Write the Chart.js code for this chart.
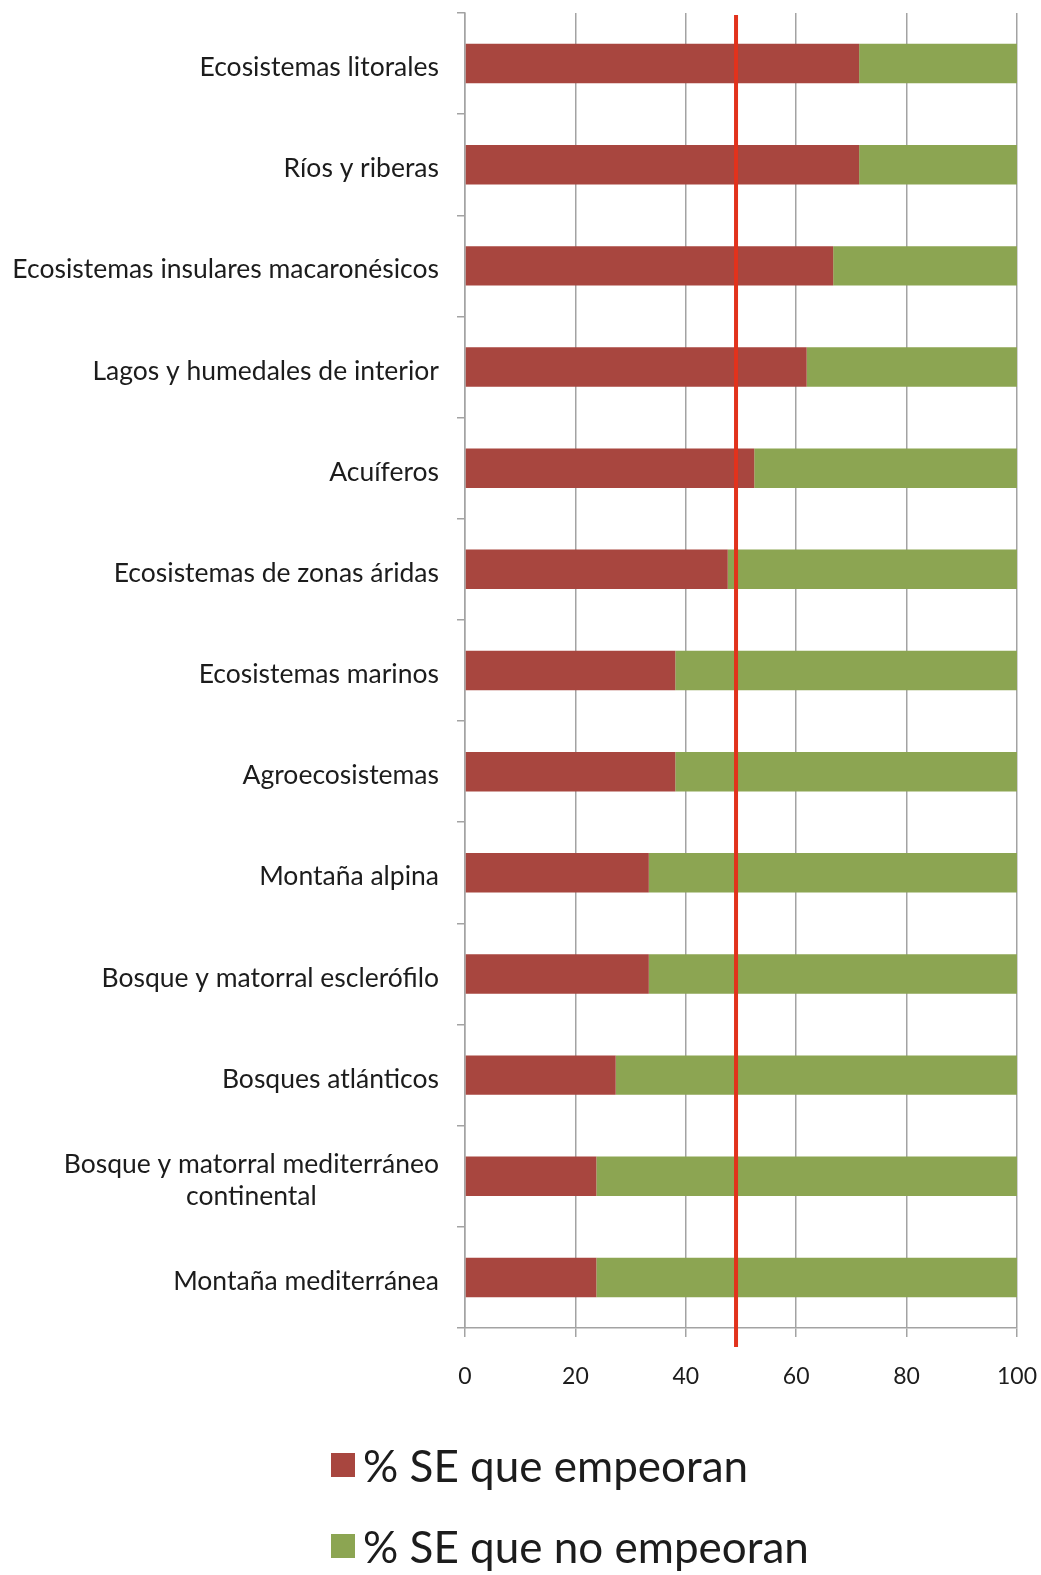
<!DOCTYPE html>
<html>
<head>
<meta charset="utf-8">
<script src="https://cdn.jsdelivr.net/npm/chart.js@4/dist/chart.umd.min.js"></script>
<style>
  html, body { margin: 0; padding: 0; background: #ffffff; }
  #wrap { position: relative; width: 1041px; height: 1575px; overflow: hidden; }
  #legend {
    position: absolute; left: 331px; top: 1424px;
    font-family: Lato, "Open Sans", sans-serif; font-size: 44px; color: #1c1c1c;
  }
  #legend .item { display: flex; align-items: center; height: 81px; white-space: nowrap; }
  #legend .box { width: 24px; height: 24px; margin-right: 8px; flex: none; }
</style>
</head>
<body>
<div id="wrap">
  <canvas id="c" width="1041" height="1575"></canvas>
  <div id="legend"></div>
</div>
<script>
// Ecosystem types, top to bottom
const categories = [
  'Ecosistemas litorales',
  'Ríos y riberas',
  'Ecosistemas insulares macaronésicos',
  'Lagos y humedales de interior',
  'Acuíferos',
  'Ecosistemas de zonas áridas',
  'Ecosistemas marinos',
  'Agroecosistemas',
  'Montaña alpina',
  'Bosque y matorral esclerófilo',
  'Bosques atlánticos',
  ['Bosque y matorral mediterráneo', 'continental'],
  'Montaña mediterránea'
];

// Share of ecosystem services that get worse / do not get worse (%)
const empeoran   = [71.4, 71.4, 66.7, 61.9, 52.4, 47.6, 38.1, 38.1, 33.3, 33.3, 27.3, 23.8, 23.8];
const noEmpeoran = [28.6, 28.6, 33.3, 38.1, 47.6, 52.4, 61.9, 61.9, 66.7, 66.7, 72.7, 76.2, 76.2];

const seriesNames = ['% SE que empeoran', '% SE que no empeoran'];
const seriesColors = ['#a8463f', '#8ca552'];

const xTicks = [0, 20, 40, 60, 80, 100];

// Reference line across all ecosystems
const threshold = 49.1;

const GRID = '#a3a3a3';
const TEXT = '#1c1c1c';
const FONT = 'Lato, "Open Sans", sans-serif';

// Vertical reference line, extending a little below the x axis
const thresholdLine = {
  id: 'thresholdLine',
  afterDatasetsDraw(chart) {
    const { ctx, chartArea, scales } = chart;
    const x = scales.x.getPixelForValue(threshold);
    ctx.save();
    ctx.strokeStyle = '#e2321c';
    ctx.lineWidth = 4;
    ctx.beginPath();
    ctx.moveTo(x, chartArea.top + 2);
    ctx.lineTo(x, chartArea.bottom + 19);
    ctx.stroke();
    ctx.restore();
  }
};

// Category labels: right-aligned block, extra lines centred under the first
const categoryLabels = {
  id: 'categoryLabels',
  afterDraw(chart) {
    const { ctx, scales } = chart;
    const y = scales.y;
    const right = y.right - 26;
    const lineH = 32;
    ctx.save();
    ctx.font = '26.5px ' + FONT;
    ctx.fillStyle = TEXT;
    ctx.textAlign = 'center';
    ctx.textBaseline = 'middle';
    chart.data.labels.forEach((lab, i) => {
      const lines = Array.isArray(lab) ? lab : [lab];
      const w = Math.max(...lines.map(l => ctx.measureText(l).width));
      const cx = right - w / 2;
      const cy = y.getPixelForTick(i) + 4;
      const y0 = cy - (lines.length - 1) * lineH / 2;
      lines.forEach((l, k) => ctx.fillText(l, cx, y0 + k * lineH));
    });
    ctx.restore();
  }
};

const chart = new Chart(document.getElementById('c'), {
  type: 'bar',
  data: {
    labels: categories,
    datasets: [
      { label: seriesNames[0], data: empeoran, backgroundColor: seriesColors[0] },
      { label: seriesNames[1], data: noEmpeoran, backgroundColor: seriesColors[1] }
    ]
  },
  options: {
    indexAxis: 'y',
    responsive: false,
    animation: false,
    devicePixelRatio: 1,
    layout: { padding: { top: 13, right: 24, left: 0, bottom: 187 } },
    datasets: { bar: { categoryPercentage: 1, barPercentage: 0.39 } },
    plugins: {
      legend: { display: false },
      tooltip: { enabled: false }
    },
    scales: {
      x: {
        stacked: true,
        min: 0,
        max: 100,
        afterBuildTicks: s => { s.ticks = xTicks.map(v => ({ value: v })); },
        afterFit: s => { s.height = 60; s.paddingLeft = 0; s.paddingRight = 0; },
        grid: { color: GRID, lineWidth: 1.5, drawTicks: true, tickLength: 9, tickColor: GRID },
        border: { display: true, color: GRID, width: 1.5 },
        ticks: { font: { family: FONT, size: 23 }, color: TEXT, padding: 26, maxRotation: 0 }
      },
      y: {
        stacked: true,
        afterFit: s => { s.width = 465; },
        grid: { drawOnChartArea: false, drawTicks: true, tickLength: 8, color: GRID, lineWidth: 1.5 },
        border: { display: true, color: GRID, width: 1.5 },
        ticks: { display: false }
      }
    }
  },
  plugins: [thresholdLine, categoryLabels]
});

// Legend, one series per row
const legendEl = document.getElementById('legend');
chart.data.datasets.forEach(ds => {
  const item = document.createElement('div');
  item.className = 'item';
  const box = document.createElement('span');
  box.className = 'box';
  box.style.background = ds.backgroundColor;
  const txt = document.createElement('span');
  txt.textContent = ds.label;
  item.appendChild(box);
  item.appendChild(txt);
  legendEl.appendChild(item);
});
</script>
</body>
</html>
